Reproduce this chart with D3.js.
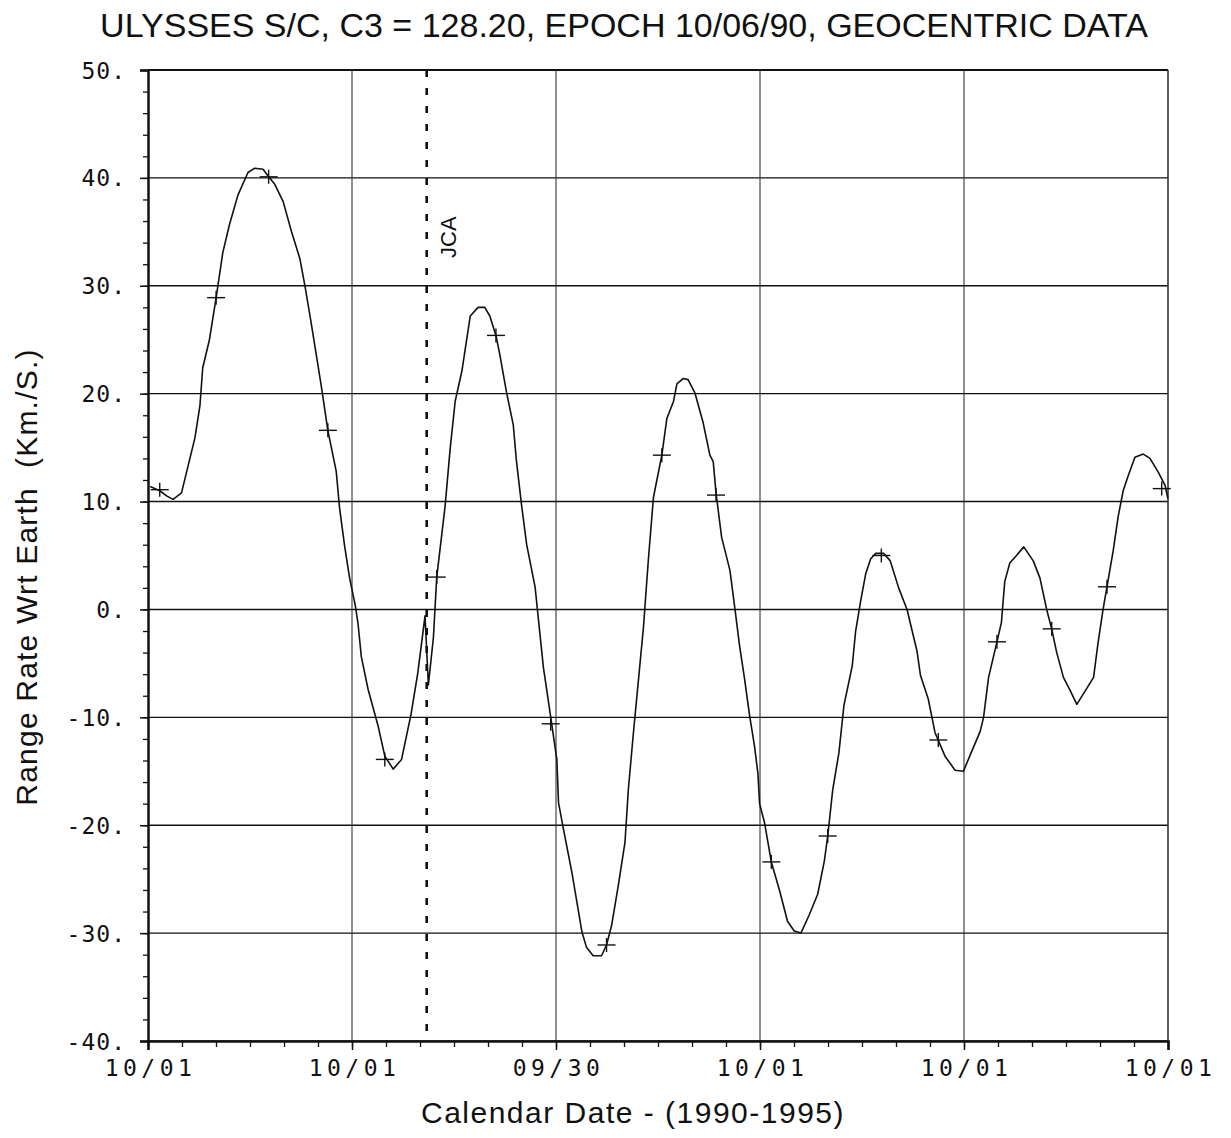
<!DOCTYPE html>
<html lang="en">
<head>
<meta charset="UTF-8">
<title>Ulysses range rate</title>
<script src="https://cdn.jsdelivr.net/npm/d3@7"></script>
<style>
    body { margin: 0; background: #fff; }
    svg { display: block; }
    .tick-label { font-family: "DejaVu Sans Mono", monospace; font-size: 23px; fill: #111; }
    .label { font-family: "Liberation Sans", Arial, sans-serif; fill: #111; }
</style>
</head>
<body>
<div id="chart"></div>
<script>
// days are counted from 10/01/90
const xTickDays = [0, 365.25, 730.5, 1095.75, 1461, 1826.25];
const xTickLabels = ["10/01", "10/01", "09/30", "10/01", "10/01", "10/01"];
const yTicks = [50, 40, 30, 20, 10, 0, -10, -20, -30, -40];
const yTickLabels = ["50.", "40.", "30.", "20.", "10.", "0.", "-10.", "-20.", "-30.", "-40."];
const jcaDay = 499;

const curveDays = [4, 21, 34, 45, 60, 84, 93, 98, 110, 122, 134, 146, 161, 179, 191, 206, 216, 227, 242, 257,
    272, 281, 292, 310, 322, 337, 343, 352, 361, 371, 376, 382, 394, 412, 424, 439, 454, 471, 483, 496,
    502, 511, 517, 532, 541, 550, 562, 577, 591, 603, 612, 623, 630, 642, 654, 660, 669, 678, 693, 699,
    708, 720, 732, 735, 744, 759, 777, 785, 797, 812, 821, 830, 842, 854, 860, 869, 878, 887, 896, 905,
    920, 929, 941, 947, 958, 967, 979, 994, 1006, 1012, 1017, 1027, 1042, 1051, 1059, 1068, 1077, 1086, 1092, 1095,
    1104, 1116, 1131, 1145, 1157, 1169, 1184, 1199, 1211, 1217, 1226, 1237, 1246, 1261, 1267, 1276, 1285, 1294, 1303, 1317,
    1329, 1344, 1359, 1377, 1383, 1397, 1409, 1427, 1445, 1460, 1472, 1490, 1496, 1505, 1520, 1528, 1534, 1543, 1555, 1568,
    1585, 1597, 1609, 1618, 1627, 1639, 1651, 1663, 1675, 1693, 1701, 1710, 1717, 1728, 1737, 1746, 1755, 1767, 1782, 1794,
    1809, 1821, 1826];
const curveRate = [11.4, 11.0, 10.5, 10.2, 10.8, 15.9, 18.9, 22.4, 25.0, 28.9, 33.1, 35.7, 38.4, 40.5, 40.9, 40.8, 40.1, 39.4, 37.8, 35.0,
    32.5, 30.0, 26.6, 20.8, 16.6, 12.8, 9.4, 5.9, 2.9, 0.4, -1.3, -4.4, -7.4, -10.8, -13.6, -14.8, -13.9, -9.7, -5.9, -0.6,
    -7.0, -2.6, 3.0, 9.6, 14.9, 19.3, 22.1, 27.2, 28.0, 28.0, 27.2, 25.4, 23.6, 20.1, 17.1, 13.6, 9.6, 6.0, 2.1, -0.9,
    -5.4, -9.6, -13.9, -17.9, -20.4, -24.4, -29.9, -31.3, -32.1, -32.1, -31.1, -29.3, -25.6, -21.6, -16.7, -11.5, -6.6, -1.7, 4.7, 10.4,
    14.3, 17.7, 19.3, 20.9, 21.4, 21.3, 20.1, 17.3, 14.3, 13.7, 10.8, 6.7, 3.6, 0.0, -3.3, -6.4, -9.8, -12.7, -15.2, -18.0,
    -19.8, -23.4, -26.1, -28.9, -29.8, -30.0, -28.3, -26.4, -23.3, -21.0, -16.7, -13.3, -8.9, -5.2, -2.0, 0.8, 3.3, 4.7, 5.2, 5.2,
    4.5, 2.0, 0.0, -3.9, -6.1, -8.3, -11.4, -13.6, -14.9, -15.0, -13.5, -11.3, -10.0, -6.3, -3.0, -1.2, 2.6, 4.3, 5.0, 5.8,
    4.5, 2.9, 0.0, -1.8, -4.0, -6.3, -7.5, -8.8, -7.8, -6.3, -3.1, 0.0, 2.1, 5.4, 8.6, 11.0, 12.4, 14.1, 14.4, 14.0,
    12.7, 11.5, 10.3];

const markDays = [21, 122, 216, 322, 424, 517, 623, 721, 821, 920, 1017, 1116, 1217, 1313, 1415, 1520, 1618, 1717, 1815];
const markRate = [11.1, 28.9, 40.1, 16.6, -13.9, 3.0, 25.4, -10.6, -31.1, 14.3, 10.6, -23.4, -21.0, 5.0, -12.1, -3.0, -1.8, 2.1, 11.2];

const width = 1231, height = 1138;
const margin = { top: 70, right: 63, bottom: 97, left: 148 };

const svg = d3.select("#chart").append("svg")
    .attr("width", width)
    .attr("height", height);

const x = d3.scaleLinear()
    .domain([0, 1826.25])
    .range([margin.left, width - margin.right]);

const y = d3.scaleLinear()
    .domain([-40, 50])
    .range([height - margin.bottom, margin.top]);

// horizontal grid
svg.append("g")
    .selectAll("line")
    .data(yTicks)
    .join("line")
    .attr("x1", x(0)).attr("x2", x(1826.25))
    .attr("y1", d => y(d)).attr("y2", d => y(d))
    .attr("stroke", "#111")
    .attr("stroke-width", d => d === 50 ? 2 : 1.4);

// vertical grid at year marks
svg.append("g")
    .selectAll("line")
    .data(xTickDays.slice(1))
    .join("line")
    .attr("x1", d => x(d)).attr("x2", d => x(d))
    .attr("y1", y(50)).attr("y2", y(-40))
    .attr("stroke", "#333")
    .attr("stroke-width", d => d === 1826.25 ? 1.6 : 1.1);

// minor ticks
svg.append("g")
    .attr("transform", `translate(${margin.left},0)`)
    .call(d3.axisLeft(y).tickValues(d3.range(-40, 51, 2)).tickSize(5).tickFormat(""))
    .call(g => g.select(".domain").remove())
    .call(g => g.selectAll("line").attr("stroke", "#111").attr("stroke-width", 1.3));

svg.append("g")
    .attr("transform", `translate(0,${height - margin.bottom})`)
    .call(d3.axisBottom(x).tickValues(d3.range(0, 1827, 365.25 / 6)).tickSize(6).tickFormat(""))
    .call(g => g.select(".domain").remove())
    .call(g => g.selectAll("line").attr("stroke", "#111").attr("stroke-width", 1.3));

// main axes
const yAxis = svg.append("g")
    .attr("transform", `translate(${margin.left},0)`)
    .call(d3.axisLeft(y).tickValues(yTicks).tickSize(8).tickPadding(14)
        .tickFormat((d, i) => yTickLabels[i]));
yAxis.select(".domain").attr("stroke", "#111").attr("stroke-width", 2.5);
yAxis.selectAll(".tick line").attr("stroke", "#111").attr("stroke-width", 1.5);
yAxis.selectAll(".tick text").attr("class", "tick-label").attr("dy", "0.35em").attr("letter-spacing", "1px");
yAxis.attr("font-size", null).attr("font-family", null);

const xAxis = svg.append("g")
    .attr("transform", `translate(0,${height - margin.bottom})`)
    .call(d3.axisBottom(x).tickValues(xTickDays).tickSize(9).tickPadding(10)
        .tickFormat((d, i) => xTickLabels[i]));
xAxis.select(".domain").attr("stroke", "#111").attr("stroke-width", 2.5);
xAxis.selectAll(".tick line").attr("stroke", "#111").attr("stroke-width", 1.5);
xAxis.selectAll(".tick text").attr("class", "tick-label").attr("letter-spacing", "4.5px").attr("dx", "2px");
xAxis.attr("font-size", null).attr("font-family", null);

// JCA marker
svg.append("line")
    .attr("x1", x(jcaDay)).attr("x2", x(jcaDay))
    .attr("y1", y(50)).attr("y2", y(-40))
    .attr("stroke", "#111")
    .attr("stroke-width", 2.6)
    .attr("stroke-dasharray", "7,11");

svg.append("text")
    .attr("class", "label")
    .attr("transform", `translate(${x(jcaDay) + 29},258) rotate(-90)`)
    .attr("font-size", 22)
    .text("JCA");

// range-rate curve
const line = d3.line()
    .x((d, i) => x(curveDays[i]))
    .y(d => y(d));

svg.append("path")
    .datum(curveRate)
    .attr("d", line)
    .attr("fill", "none")
    .attr("stroke", "#111")
    .attr("stroke-width", 1.6)
    .attr("stroke-linejoin", "round");

// plus markers
const marks = svg.append("g")
    .selectAll("g")
    .data(markRate)
    .join("g")
    .attr("transform", (d, i) => `translate(${x(markDays[i])},${y(d)})`);
marks.append("line").attr("x1", -9).attr("x2", 9).attr("y1", 0).attr("y2", 0);
marks.append("line").attr("x1", 0).attr("x2", 0).attr("y1", -7).attr("y2", 7);
marks.selectAll("line").attr("stroke", "#111").attr("stroke-width", 1.4);

// titles
svg.append("text")
    .attr("class", "label")
    .attr("x", 624).attr("y", 37)
    .attr("text-anchor", "middle")
    .attr("font-size", 34)
    .text("ULYSSES S/C, C3 = 128.20, EPOCH 10/06/90, GEOCENTRIC DATA");

svg.append("text")
    .attr("class", "label")
    .attr("x", 633).attr("y", 1123)
    .attr("text-anchor", "middle")
    .attr("font-size", 30)
    .attr("letter-spacing", "1.5px")
    .text("Calendar Date - (1990-1995)");

svg.append("text")
    .attr("class", "label")
    .attr("transform", "translate(37,577) rotate(-90)")
    .attr("text-anchor", "middle")
    .attr("font-size", 30)
    .attr("letter-spacing", "1.2px")
    .style("white-space", "pre")
    .text("Range Rate Wrt Earth  (Km./S.)");
</script>
</body>
</html>
